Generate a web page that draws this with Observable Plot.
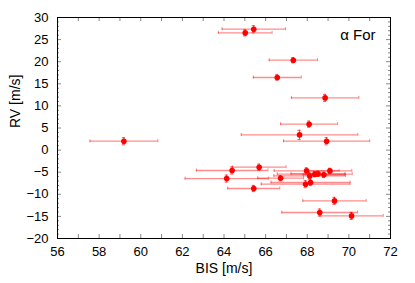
<!DOCTYPE html>
<html>
<head>
<meta charset="utf-8">
<script src="https://cdn.jsdelivr.net/npm/d3@7"></script>
<script src="https://cdn.jsdelivr.net/npm/@observablehq/plot@0.6"></script>
<style>
  html, body { margin: 0; padding: 0; background: #fff; }
</style>
</head>
<body>
<div id="chart"></div>
<script>
// Data (BIS vs RV for alpha For)
const bis    = [65.43, 65.02, 67.33, 66.56, 68.86, 68.09, 67.63, 68.93, 59.19, 65.69, 64.39, 64.13, 66.72, 67.97, 69.09, 68.12, 68.36, 68.52, 68.80, 67.92, 68.16, 65.43, 69.31, 68.60, 70.13];
const rv     = [27.35, 26.52, 20.34, 16.43, 11.81, 5.86, 3.44, 2.01, 2.01, -3.87, -4.62, -6.45, -6.36, -4.71, -4.71, -5.84, -5.45, -5.38, -5.60, -7.71, -7.33, -8.69, -11.49, -14.12, -14.89];
const bisErr = [1.52, 1.29, 1.16, 1.15, 1.62, 1.37, 2.80, 2.07, 1.63, 1.29, 1.72, 2.00, 1.10, 1.56, 1.05, 1.72, 1.80, 1.30, 1.00, 2.13, 1.90, 1.25, 1.52, 1.82, 1.52];
const rvErr  = [0.8, 0.7, 0.6, 0.6, 0.8, 0.7, 1.05, 0.8, 0.8, 0.7, 0.8, 0.8, 0.6, 0.7, 0.6, 0.7, 0.6, 0.6, 0.6, 0.8, 0.7, 0.7, 0.8, 0.8, 0.8];

const xTicks = [56, 58, 60, 62, 64, 66, 68, 70, 72];
const yTicks = [-20, -15, -10, -5, 0, 5, 10, 15, 20, 25, 30];
const xLabel = "BIS [m/s]";
const yLabel = "RV [m/s]";
const starLabel = "α For";

const xDomain = [56, 72];
const yDomain = [-20, 30];

const data = bis.map((b, i) => ({bis: b, rv: rv[i], be: bisErr[i], re: rvErr[i]}));

// minor/major tick positions (decoration)
const xMinor = d3.range(xDomain[0], xDomain[1] + 1, 1);
const yMinor = d3.range(yDomain[0], yDomain[1] + 1, 1);

const W = 415, H = 283;
const mL = 57, mR = 25, mT = 17, mB = 45;
const pxX = (xDomain[1] - xDomain[0]) / (W - mL - mR);
const pxY = (yDomain[1] - yDomain[0]) / (H - mT - mB);

const tickCol = "#888";
const barCol = "#ff0000";

const chart = Plot.plot({
  width: W,
  height: H,
  marginLeft: mL,
  marginRight: mR,
  marginTop: mT,
  marginBottom: mB,
  style: {fontFamily: "'Liberation Sans', Arial, sans-serif", fontSize: "13px", background: "#fff", color: "#000"},
  x: {domain: xDomain, label: null},
  y: {domain: yDomain, label: null},
  marks: [
    // horizontal error bars
    Plot.ruleY(data, {y: "rv", x1: d => d.bis - d.be, x2: d => d.bis + d.be, stroke: barCol, strokeOpacity: 0.45, strokeWidth: 1.3}),
    Plot.ruleX(data, {x: d => d.bis - d.be, y1: d => d.rv - 1.5 * pxY, y2: d => d.rv + 1.5 * pxY, stroke: barCol, strokeOpacity: 0.5, strokeWidth: 1}),
    Plot.ruleX(data, {x: d => d.bis + d.be, y1: d => d.rv - 1.5 * pxY, y2: d => d.rv + 1.5 * pxY, stroke: barCol, strokeOpacity: 0.5, strokeWidth: 1}),
    // vertical error bars
    Plot.ruleX(data, {x: "bis", y1: d => d.rv - d.re, y2: d => d.rv + d.re, stroke: barCol, strokeOpacity: 0.7, strokeWidth: 1}),
    Plot.ruleY(data, {y: d => d.rv - d.re, x1: d => d.bis - 1.5 * pxX, x2: d => d.bis + 1.5 * pxX, stroke: barCol, strokeOpacity: 0.7, strokeWidth: 1}),
    Plot.ruleY(data, {y: d => d.rv + d.re, x1: d => d.bis - 1.5 * pxX, x2: d => d.bis + 1.5 * pxX, stroke: barCol, strokeOpacity: 0.7, strokeWidth: 1}),
    // points
    Plot.dot(data, {x: "bis", y: "rv", r: 2.8, fill: "#ff0000", stroke: "none"}),
    // inward ticks, bottom & top
    Plot.ruleX(xMinor, {x: d => d, y1: yDomain[0], y2: yDomain[0] + 4 * pxY, stroke: tickCol}),
    Plot.ruleX(xMinor, {x: d => d, y1: yDomain[1], y2: yDomain[1] - 4 * pxY, stroke: tickCol}),
    // inward ticks, left & right
    Plot.ruleY(yMinor, {y: d => d, x1: xDomain[0], x2: d => xDomain[0] + (d % 5 === 0 ? 4 : 2) * pxX, stroke: tickCol}),
    Plot.ruleY(yMinor, {y: d => d, x1: xDomain[1], x2: d => xDomain[1] - (d % 5 === 0 ? 4 : 2) * pxX, stroke: tickCol}),
    Plot.frame({stroke: "#000", strokeWidth: 1}),
    Plot.axisX({ticks: xTicks, tickSize: 0, tickPadding: 8, label: null, fontSize: 13}),
    Plot.axisY({ticks: yTicks, tickSize: 0, tickPadding: 9, label: null, fontSize: 13}),
    Plot.text([xLabel], {frameAnchor: "bottom", dy: 34, fontSize: 14, fill: "#000"}),
    Plot.text([yLabel], {frameAnchor: "left", dx: -42, rotate: -90, fontSize: 14, fill: "#000"}),
    Plot.text([starLabel], {frameAnchor: "top-right", dx: -15, dy: 12, fontSize: 15, fill: "#000"})
  ]
});
document.getElementById("chart").appendChild(chart);
</script>
</body>
</html>
